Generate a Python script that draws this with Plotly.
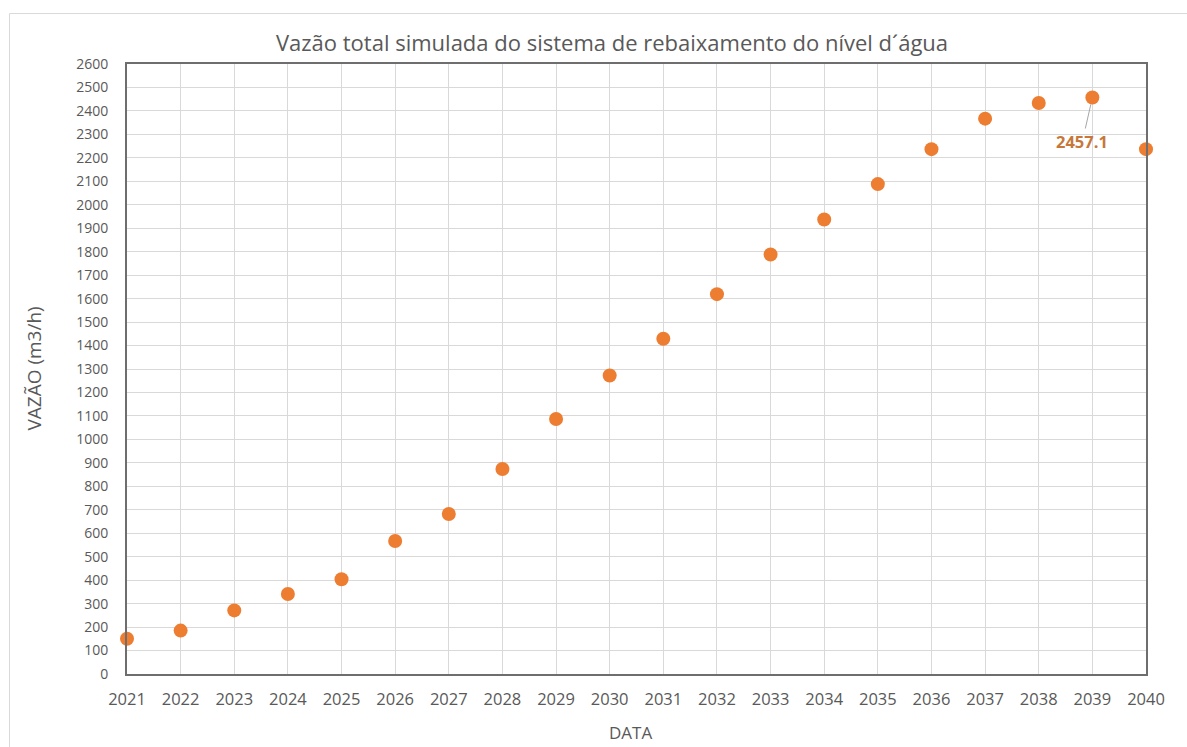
import plotly.graph_objects as go

years = list(range(2021, 2041))
vazao = [150, 185, 271, 341, 404, 567, 682, 874, 1087, 1272,
         1429, 1619, 1788, 1937, 2088, 2237, 2367, 2434, 2457.1, 2237]
y_ticks = list(range(0, 2601, 100))

title_text = "Vazão total simulada do sistema de rebaixamento do nível d´água"
y_title = "VAZÃO (m3/h)"
x_title = "DATA"

FONT = "Open Sans"
GREY = "#595959"
ORANGE = "#ED7D31"

L, R, T, B = 126.5, 41.3, 63.5, 73
W, H = 1187, 747
PW, PH = W - L - R, H - T - B


def px_x(p):
    return (p - L) / PW


def px_y(p):
    return (H - B - p) / PH


fig = go.Figure()
fig.add_trace(go.Scatter(
    x=years, y=vazao, mode="markers",
    marker=dict(color=ORANGE, size=14, line=dict(width=0)),
    cliponaxis=False, showlegend=False,
))

fig.update_layout(
    width=W, height=H,
    margin=dict(l=L, r=R, t=T, b=B, autoexpand=False),
    paper_bgcolor="white", plot_bgcolor="white",
    font=dict(family=FONT, color=GREY),
    title=dict(text=title_text, x=612 / W, xanchor="center", xref="container",
               y=1 - 43 / H, yanchor="middle",
               font=dict(size=22, color=GREY, family=FONT)),
)
fig.update_xaxes(
    range=[2021, 2040], tickmode="array", tickvals=years,
    ticktext=[str(y) for y in years],
    tickfont=dict(size=16.5, color=GREY),
    showgrid=True, gridcolor="#D9D9D9", gridwidth=1,
    showline=True, linecolor="#6E6E6E", linewidth=2, mirror=True,
    ticks="", ticklabelstandoff=9, zeroline=False, automargin=False,
)
fig.update_yaxes(
    range=[0, 2600], tickmode="array", tickvals=y_ticks,
    tickfont=dict(size=14, color=GREY),
    showgrid=True, gridcolor="#D9D9D9", gridwidth=1,
    showline=True, linecolor="#6E6E6E", linewidth=2, mirror=True,
    ticks="", ticklabelstandoff=14, zeroline=False, automargin=False,
)

# axis titles
fig.add_annotation(x=px_x(630), y=px_y(733), xref="paper", yref="paper",
                   text=x_title, showarrow=False, xanchor="center", yanchor="middle",
                   font=dict(size=17, color=GREY, family=FONT))
fig.add_annotation(x=px_x(33), y=0.5, xref="paper", yref="paper",
                   text=y_title, showarrow=False, textangle=-90,
                   xanchor="center", yanchor="middle",
                   font=dict(size=19, color=GREY, family=FONT))

fig.add_annotation(
    x=2039, y=2457.1, text="<b>2457.1</b>",
    showarrow=True, arrowhead=0, arrowwidth=1, arrowcolor="#A6A6A6",
    ax=-10, ay=44, standoff=7,
    font=dict(size=16.5, color="#C8773A", family=FONT),
)

# outer chart border (top and left visible)
fig.add_shape(type="line", xref="paper", yref="paper",
              x0=px_x(9), x1=px_x(W), y0=px_y(13), y1=px_y(13),
              line=dict(color="#D9D9D9", width=1))
fig.add_shape(type="line", xref="paper", yref="paper",
              x0=px_x(9), x1=px_x(9), y0=px_y(13), y1=px_y(H),
              line=dict(color="#D9D9D9", width=1))

fig.write_html("out.html")
